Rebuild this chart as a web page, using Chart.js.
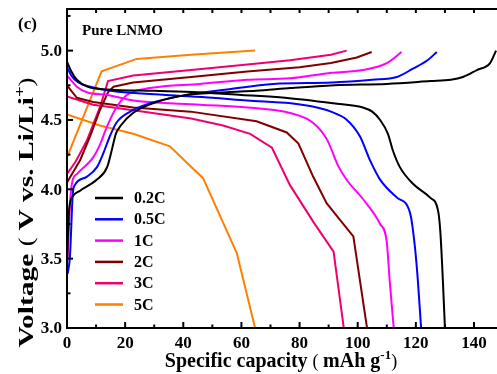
<!DOCTYPE html>
<html>
<head>
<meta charset="utf-8">
<script src="https://cdn.jsdelivr.net/npm/chart.js@4.4.1/dist/chart.umd.min.js"></script>
<style>
  html, body { margin: 0; padding: 0; overflow: hidden; background: #fff; }
</style>
</head>
<body>
<canvas id="voltageChart" width="499" height="374"></canvas>
<script>
// rates and colours
const rates = ['0.2C', '0.5C', '1C', '2C', '3C', '5C'];
const colors = ['#000000', '#0000FF', '#FF00FF', '#800000', '#F0006E', '#FF8000'];
const smooth = [true, true, true, false, false, false];

// charge curves [capacity, voltage]
const charge02 = [[0,3.45],[0.7,3.85],[2,3.95],[4.5,3.99],[10.3,4.07],[13.8,4.16],[15.6,4.3],[16.8,4.4],[18.5,4.46],[22.7,4.55],[31,4.63],[41,4.68],[55,4.7],[65,4.71],[77,4.73],[92,4.75],[110,4.76],[125,4.78],[132,4.79],[136.2,4.81],[141,4.86],[145.5,4.91],[147.6,5.0]];
const charge05 = [[0.2,3.39],[1,3.51],[2,3.97],[2.7,4.03],[6.8,4.09],[10.3,4.16],[12.5,4.26],[14.5,4.37],[17,4.48],[21.7,4.56],[28.5,4.62],[41,4.68],[55,4.72],[71,4.76],[91,4.77],[105,4.79],[113.5,4.81],[119,4.87],[124,4.93],[127.2,4.99]];
const charge1 = [[0.2,3.5],[1.2,3.95],[2,4.07],[3.4,4.11],[9,4.23],[11.3,4.32],[13.7,4.45],[17,4.59],[20.6,4.68],[28.5,4.73],[45.8,4.76],[62,4.79],[76.7,4.8],[91,4.84],[101.8,4.86],[110,4.91],[115.1,4.99]];
const charge2 = [[0,4.05],[4.5,4.21],[7.9,4.38],[11.3,4.57],[14.1,4.7],[16,4.74],[22.7,4.77],[42.7,4.81],[62,4.85],[80,4.88],[90.8,4.91],[99.7,4.95],[104.8,4.99]];
const charge3 = [[0,4.11],[3,4.2],[6.8,4.35],[11.3,4.59],[14.1,4.78],[22.8,4.82],[42.7,4.86],[62,4.9],[76.7,4.93],[90.8,4.97],[96.2,5.0]];
const charge5 = [[0,4.23],[11.9,4.85],[24,4.94],[42.7,4.97],[64.7,5.0]];

// discharge curves [capacity, voltage]
const discharge02 = [[0,4.92],[1.5,4.85],[3.4,4.79],[7,4.74],[14,4.72],[30,4.71],[45,4.7],[60,4.68],[75,4.66],[91.6,4.62],[101.8,4.59],[105,4.56],[107.7,4.5],[110.4,4.4],[112.1,4.28],[114.5,4.16],[119,4.04],[124.9,3.94],[127.6,3.85],[128.4,3.7],[129.3,3.34],[130,3.0]];
const discharge05 = [[0,4.88],[1.5,4.82],[3.9,4.77],[8,4.74],[15,4.71],[34,4.68],[50,4.66],[62,4.64],[77,4.62],[86,4.59],[90.8,4.56],[96.3,4.5],[100.8,4.38],[104.2,4.21],[107.7,4.07],[113.5,3.94],[118,3.83],[119.7,3.58],[120.7,3.34],[121.8,3.0]];
const discharge1 = [[0,4.82],[3.4,4.74],[6.8,4.7],[14,4.68],[22.8,4.64],[45.8,4.61],[62,4.59],[76.7,4.55],[84.6,4.48],[89.4,4.36],[93.5,4.16],[96.5,4.06],[101.8,3.93],[107.7,3.75],[110,3.62],[111,3.34],[112.4,3.0]];
const discharge2 = [[0,4.75],[3.4,4.66],[9,4.63],[22.8,4.59],[42.5,4.56],[65.2,4.49],[75.6,4.41],[79.6,4.33],[84.7,4.09],[89.3,3.9],[93.9,3.78],[98.5,3.66],[103.2,3.0]];
const discharge3 = [[0,4.67],[9,4.61],[22.8,4.57],[42.7,4.51],[53.7,4.46],[63,4.4],[70.5,4.3],[76.7,4.03],[84.9,3.76],[91.7,3.55],[95.2,3.0]];
const discharge5 = [[0,4.54],[11.3,4.46],[22.8,4.4],[35.4,4.31],[42.3,4.17],[46.8,4.08],[58.4,3.54],[64.7,3.0]];

const chargeCurves = [charge02, charge05, charge1, charge2, charge3, charge5];
const dischargeCurves = [discharge02, discharge05, discharge1, discharge2, discharge3, discharge5];

// axis ticks
const xTicks = [0, 20, 40, 60, 80, 100, 120, 140];
const xMinorTicks = [10, 30, 50, 70, 90, 110, 130];
const yTicks = ['3.0', '3.5', '4.0', '4.5', '5.0'];
const yMinorTicks = [3.25, 3.75, 4.25, 4.75, 5.25];

const serif = '"Liberation Serif", "Times New Roman", serif';

const datasets = [];
rates.forEach((rate, i) => {
    [chargeCurves[i], dischargeCurves[i]].forEach(curve => {
        datasets.push({
            label: rate,
            data: curve.map(p => ({ x: p[0], y: p[1] })),
            borderColor: colors[i],
            backgroundColor: colors[i],
            borderWidth: 2,
            pointRadius: 0,
            showLine: true,
            fill: false,
            tension: 0,
            cubicInterpolationMode: smooth[i] ? 'monotone' : 'default'
        });
    });
});

function drawRich(ctx, parts, x, y) {
    let total = 0;
    parts.forEach(p => { ctx.font = p.font; p.w = ctx.measureText(p.text).width; total += p.w; });
    let cx = x - total / 2;
    parts.forEach(p => {
        ctx.font = p.font;
        ctx.fillText(p.text, cx, y + (p.dy || 0));
        cx += p.w;
    });
    return total;
}

function measureRich(ctx, parts) {
    let total = 0;
    parts.forEach(p => { ctx.font = p.font; total += ctx.measureText(p.text).width; });
    return total;
}

const framePlugin = {
    id: 'framePlugin',
    afterDraw(chart) {
        const ctx = chart.ctx;
        const a = chart.chartArea;
        const xs = chart.scales.x;
        const ys = chart.scales.y;
        ctx.save();
        ctx.strokeStyle = '#000';
        ctx.fillStyle = '#000';
        ctx.lineWidth = 2;
        ctx.strokeRect(a.left, a.top, a.right - a.left, a.bottom - a.top);

        function seg(x1, y1, x2, y2) {
            ctx.beginPath(); ctx.moveTo(x1, y1); ctx.lineTo(x2, y2); ctx.stroke();
        }
        // x ticks, inward, bottom and top
        xTicks.forEach(v => {
            const px = xs.getPixelForValue(v);
            seg(px, a.bottom, px, a.bottom - 6);
            seg(px, a.top, px, a.top + 4);
        });
        xMinorTicks.forEach(v => {
            const px = xs.getPixelForValue(v);
            seg(px, a.bottom, px, a.bottom - 3.5);
            seg(px, a.top, px, a.top + 4);
        });
        yTicks.forEach(t => {
            const py = ys.getPixelForValue(parseFloat(t));
            seg(a.left, py, a.left + 6, py);
        });
        yMinorTicks.forEach(v => {
            const py = ys.getPixelForValue(v);
            seg(a.left, py, a.left + 3.5, py);
        });

        // tick labels
        ctx.font = 'bold 17px ' + serif;
        ctx.textAlign = 'center';
        ctx.textBaseline = 'alphabetic';
        xTicks.forEach(v => ctx.fillText(String(v), xs.getPixelForValue(v), 348));
        ctx.textAlign = 'right';
        ctx.textBaseline = 'middle';
        yTicks.forEach(t => ctx.fillText(t, 62, ys.getPixelForValue(parseFloat(t)) + 1));

        // x title
        ctx.textAlign = 'left';
        ctx.textBaseline = 'alphabetic';
        drawRich(ctx, [
            { text: 'Specific capacity ', font: 'bold 20px ' + serif },
            { text: '( ', font: '18px ' + serif },
            { text: 'mAh g', font: 'bold 20px ' + serif },
            { text: '-1', font: 'bold 13px ' + serif, dy: -8 },
            { text: ')', font: '18px ' + serif }
        ], 281, 366.5);

        // y title, rotated and stretched along its length
        const yParts = [
            { text: 'Voltage ', font: 'bold 22px ' + serif },
            { text: '( ', font: '20px ' + serif },
            { text: 'V vs. Li/Li', font: 'bold 22px ' + serif },
            { text: '+', font: 'bold 14px ' + serif, dy: -9 },
            { text: ')', font: '20px ' + serif }
        ];
        const yw = measureRich(ctx, yParts);
        ctx.save();
        ctx.translate(33, 212.5);
        ctx.rotate(-Math.PI / 2);
        ctx.scale(270 / yw, 1);
        drawRich(ctx, yParts, 0, 0);
        ctx.restore();

        // panel label and sample name
        ctx.font = 'bold 17px ' + serif;
        ctx.fillText('(c)', 18, 29);
        ctx.font = 'bold 15px ' + serif;
        ctx.fillText('Pure LNMO', 82, 35);

        // legend
        ctx.lineWidth = 2.5;
        ctx.font = 'bold 16px ' + serif;
        ctx.textBaseline = 'middle';
        rates.forEach((r, i) => {
            const ly = 198 + i * 21.3;
            ctx.strokeStyle = colors[i];
            seg(95, ly, 123, ly);
            ctx.fillText(r, 134, ly + 1);
        });
        ctx.restore();
    }
};

new Chart(document.getElementById('voltageChart').getContext('2d'), {
    type: 'scatter',
    data: { datasets: datasets },
    options: {
        responsive: false,
        animation: false,
        devicePixelRatio: 1,
        layout: { padding: { top: 9, right: 0, left: 0, bottom: 0 } },
        plugins: { legend: { display: false }, tooltip: { enabled: false } },
        scales: {
            x: {
                type: 'linear',
                min: 0,
                max: 148.6,
                grid: { display: false },
                border: { display: false },
                ticks: { display: false },
                afterFit: scale => { scale.height = 46; }
            },
            y: {
                type: 'linear',
                min: 3.0,
                max: 5.3,
                grid: { display: false },
                border: { display: false },
                ticks: { display: false },
                afterFit: scale => { scale.width = 67; }
            }
        }
    },
    plugins: [framePlugin]
});
</script>
</body>
</html>
